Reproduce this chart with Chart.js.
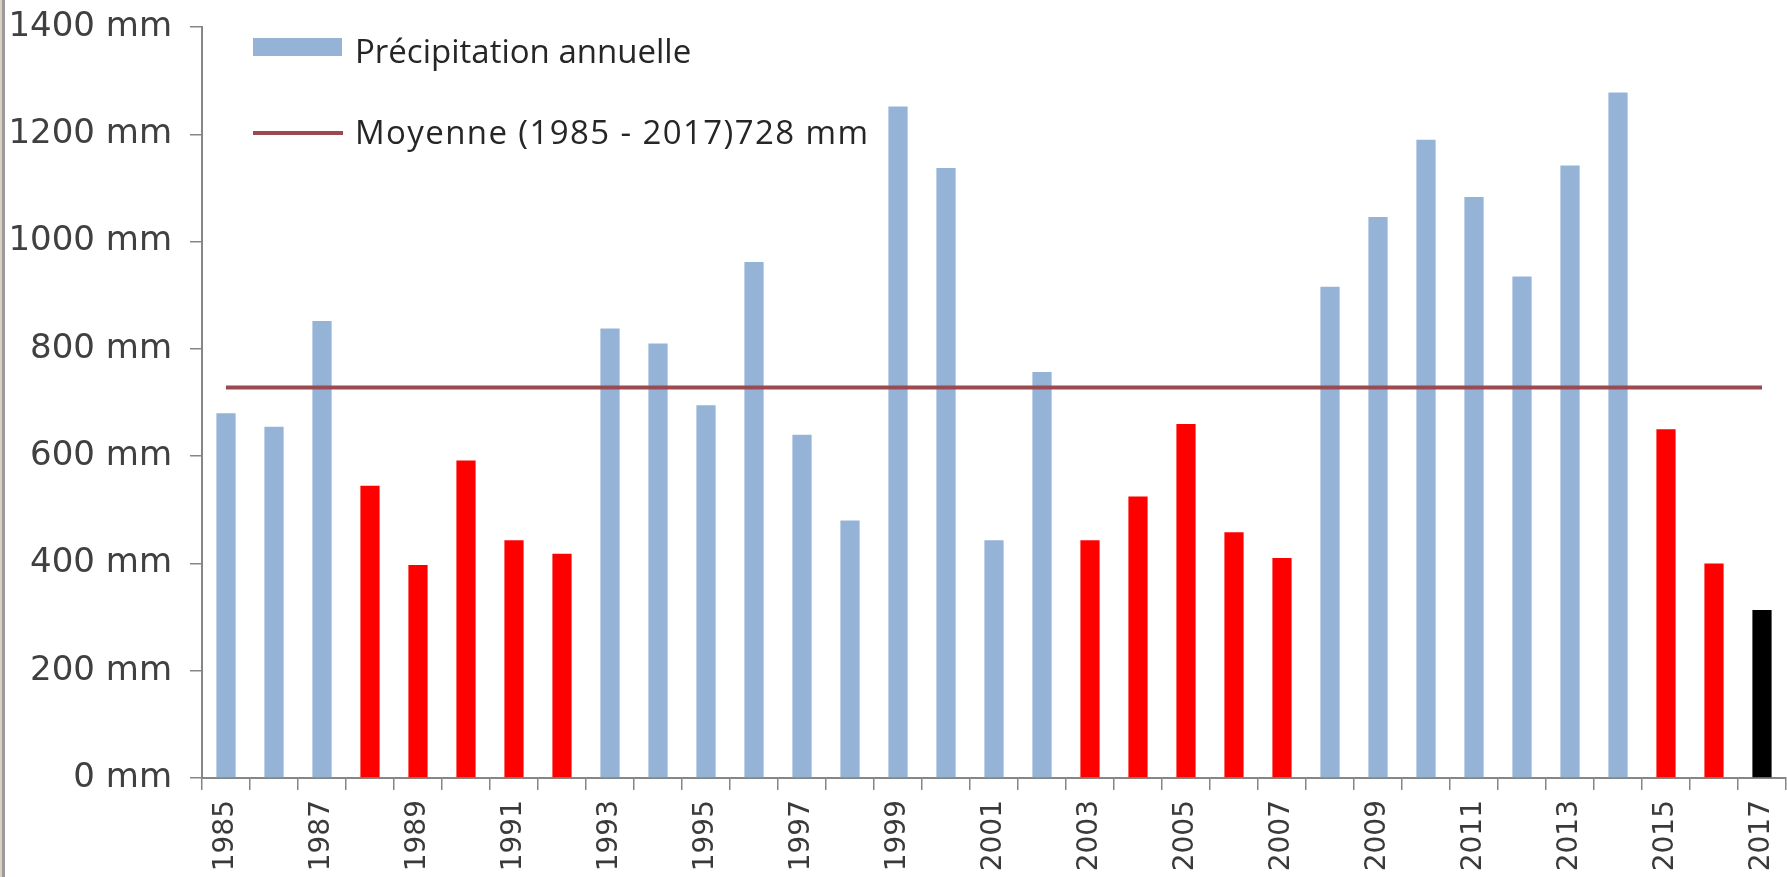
<!DOCTYPE html>
<html>
<head>
<meta charset="utf-8">
<script src="https://cdn.jsdelivr.net/npm/chart.js@4/dist/chart.umd.min.js"></script>
<style>
  html, body { margin: 0; padding: 0; background: #ffffff; }
  #wrap { position: relative; width: 1787px; height: 877px; overflow: hidden; }
  #edge { position: absolute; left: 0; top: 0; width: 2px; height: 877px; background: #d9d0bf; }
  #edge2 { position: absolute; left: 2px; top: 0; width: 3px; height: 877px; background: #9a9a9a; }
  canvas { position: absolute; left: 0; top: 0; }
  .leg { position: absolute; font-family: "Open Sans", "Noto Sans", sans-serif; font-size: 33px; color: #262626; white-space: nowrap; line-height: 1; }
  .sw-bar { position: absolute; left: 253px; top: 38px; width: 89px; height: 18px; background: #95b3d7; }
  .sw-line { position: absolute; left: 253px; top: 131px; width: 90px; height: 4px; background: #9b4a52; }
</style>
</head>
<body>
<div id="wrap">
  <canvas id="c" width="1787" height="877"></canvas>
  <div id="edge"></div><div id="edge2"></div>
  <div class="sw-bar"></div>
  <div class="leg" id="leg1" style="left:355px; top:34px;"></div>
  <div class="sw-line"></div>
  <div class="leg" id="leg2" style="left:355px; top:115px; letter-spacing:1.4px;"></div>
</div>
<script>
// ---- data ----
const years = ['1985','1986','1987','1988','1989','1990','1991','1992','1993','1994','1995','1996','1997','1998','1999','2000','2001','2002','2003','2004','2005','2006','2007','2008','2009','2010','2011','2012','2013','2014','2015','2016','2017'];
const precipitation = [680, 655, 852, 545, 397, 592, 443, 418, 838, 810, 695, 962, 640, 480, 1252, 1137, 443, 757, 443, 525, 660, 458, 410, 916, 1046, 1190, 1083, 935, 1142, 1278, 650, 400, 313];
// year class: 'n' normal, 'd' drought year, 'c' current year
const yearClass = ['n','n','n','d','d','d','d','d','n','n','n','n','n','n','n','n','n','n','d','d','d','d','d','n','n','n','n','n','n','n','d','d','c'];
const meanValue = 728;
const meanLine = years.map(() => meanValue);
const yTicks = [0, 200, 400, 600, 800, 1000, 1200, 1400];
const barLabel = 'Précipitation annuelle';
const meanLabel = 'Moyenne (1985 - 2017)728 mm';

// ---- styles ----
const classColors = { n: '#95b3d7', d: '#ff0000', c: '#000000' };
const axisColor = '#868686';

document.getElementById('leg1').textContent = barLabel;
document.getElementById('leg2').textContent = meanLabel;

new Chart(document.getElementById('c'), {
  type: 'bar',
  data: {
    labels: years,
    datasets: [
      {
        type: 'line',
        label: meanLabel,
        data: meanLine,
        borderColor: '#9b4a52',
        borderWidth: 4,
        pointRadius: 0,
        fill: false,
        order: 0
      },
      {
        type: 'bar',
        label: barLabel,
        data: precipitation,
        backgroundColor: yearClass.map(k => classColors[k]),
        barPercentage: 0.4,
        categoryPercentage: 1.0,
        order: 1
      }
    ]
  },
  options: {
    responsive: false,
    animation: false,
    layout: { padding: { left: 0, right: 1, top: 27, bottom: 0 } },
    plugins: { legend: { display: false }, tooltip: { enabled: false } },
    scales: {
      x: {
        offset: true,
        grid: { display: true, drawOnChartArea: false, drawTicks: true, tickLength: 12, color: axisColor, lineWidth: 1.5, offset: true },
        border: { display: true, color: axisColor, width: 2 },
        ticks: {
          autoSkip: false,
          maxRotation: 90,
          minRotation: 90,
          padding: 10,
          color: '#3a3a3a',
          font: { family: 'DejaVu Sans', size: 28 },
          callback: function(v, i) { return i % 2 === 0 ? years[i] : ''; }
        },
        afterFit: function(s) { s.height = 99; s.paddingLeft = 0; s.paddingRight = 0; }
      },
      y: {
        min: 0,
        max: 1400,
        afterBuildTicks: function(s) { s.ticks = yTicks.map(v => ({ value: v })); },
        grid: { display: true, drawOnChartArea: false, drawTicks: true, tickLength: 12, color: axisColor, lineWidth: 1.5 },
        border: { display: true, color: axisColor, width: 2 },
        ticks: {
          padding: 18,
          color: '#404040',
          font: { family: 'DejaVu Sans', size: 34 },
          callback: function(v) { return v + ' mm'; }
        },
        afterFit: function(s) { s.width = 202; s.paddingTop = 0; s.paddingBottom = 0; }
      }
    }
  }
});
</script>
</body>
</html>
